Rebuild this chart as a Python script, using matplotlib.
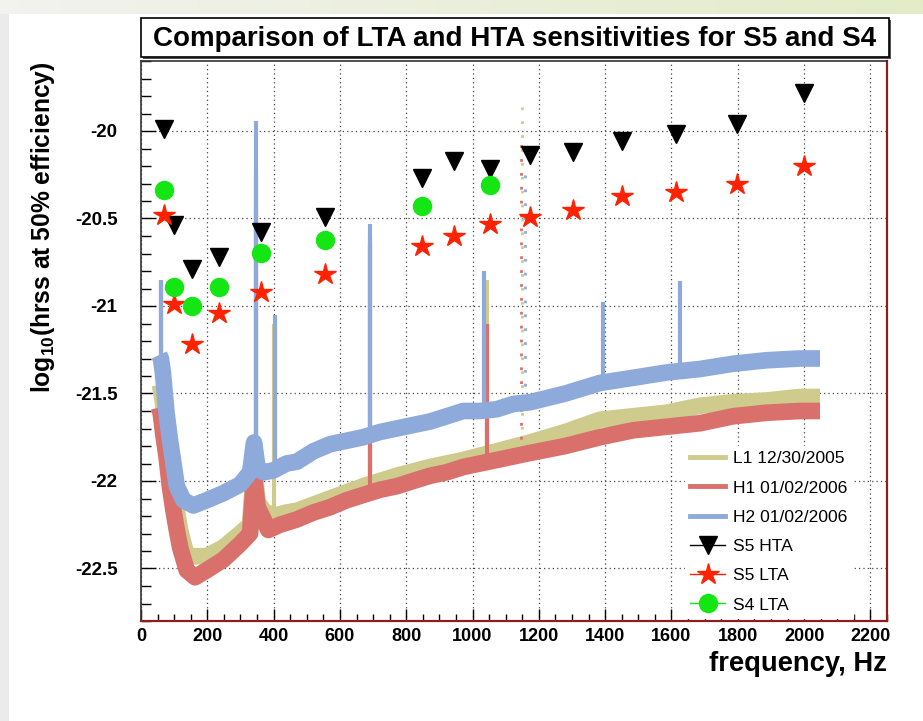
import numpy as np
import matplotlib
matplotlib.use("Agg")
import matplotlib.pyplot as plt
from matplotlib.lines import Line2D
from matplotlib.patches import Rectangle
from matplotlib.ticker import MultipleLocator, FuncFormatter

# --- sine-Gaussian frequencies and sensitivities (log10 hrss) ---
sg_freq = [70, 100, 153, 235, 361, 554, 849, 945, 1053, 1172, 1304, 1451, 1615, 1797, 2000]
s5_hta = [-19.99, -20.54, -20.79, -20.72, -20.58, -20.49, -20.27, -20.17, -20.22,
          -20.14, -20.12, -20.06, -20.02, -19.96, -19.78]
s5_lta = [-20.48, -20.99, -21.22, -21.04, -20.92, -20.82, -20.66, -20.60, -20.53,
          -20.49, -20.45, -20.37, -20.35, -20.30, -20.20]
s4_freq = [70, 100, 153, 235, 361, 554, 849, 1053]
s4_lta = [-20.34, -20.89, -21.00, -20.89, -20.70, -20.62, -20.43, -20.31]

# --- detector noise curves (band centres) ---
l1_freq = [57, 62, 70, 77, 87, 98, 108, 118, 138, 198, 248, 299, 329, 341, 352, 370, 399,
           439, 470, 570, 670, 771, 872, 972, 1073, 1173, 1280, 1384, 1485, 1585, 1686,
           1786, 1887, 1987, 2048]
l1_val = [-21.45, -21.50, -21.60, -21.71, -21.88, -22.03, -22.17, -22.28, -22.43, -22.43,
          -22.38, -22.30, -22.25, -21.92, -22.12, -22.17, -22.20, -22.18, -22.17, -22.10,
          -22.03, -21.97, -21.92, -21.88, -21.83, -21.78, -21.72, -21.65, -21.63, -21.61,
          -21.57, -21.55, -21.54, -21.52, -21.52]
h1_freq = [55, 60, 67, 77, 87, 98, 108, 118, 138, 163, 198, 248, 299, 329, 341, 352, 370,
           384, 419, 470, 520, 570, 620, 670, 721, 771, 821, 872, 922, 972, 1022, 1073,
           1123, 1173, 1280, 1384, 1485, 1585, 1686, 1786, 1887, 1987, 2048]
h1_val = [-21.58, -21.62, -21.73, -21.86, -22.03, -22.17, -22.28, -22.38, -22.51, -22.55,
          -22.51, -22.45, -22.36, -22.30, -21.98, -22.15, -22.22, -22.28, -22.25, -22.22,
          -22.18, -22.15, -22.11, -22.08, -22.05, -22.03, -22.00, -21.97, -21.95, -21.92,
          -21.90, -21.88, -21.86, -21.84, -21.80, -21.75, -21.71, -21.69, -21.67, -21.63,
          -21.61, -21.60, -21.60]
h2_freq = [55, 60, 66, 77, 87, 98, 108, 128, 158, 198, 248, 299, 329, 341, 352, 370, 399,
           439, 470, 520, 570, 620, 670, 721, 771, 821, 872, 922, 972, 1022, 1073, 1123,
           1173, 1280, 1384, 1485, 1585, 1686, 1786, 1887, 1987, 2048]
h2_val = [-21.28, -21.30, -21.38, -21.61, -21.76, -21.90, -22.03, -22.11, -22.14, -22.11,
          -22.07, -22.02, -21.95, -21.78, -21.93, -21.95, -21.94, -21.90, -21.89, -21.83,
          -21.79, -21.77, -21.75, -21.72, -21.70, -21.68, -21.66, -21.63, -21.60, -21.60,
          -21.59, -21.56, -21.55, -21.50, -21.44, -21.41, -21.38, -21.36, -21.33, -21.31,
          -21.30, -21.30]

# dense line spikes: frequency, bottom, top
l1_spike_f = [346, 400, 690, 1045]
l1_spike_lo = [-22.20, -22.20, -22.03, -21.85]
l1_spike_hi = [-20.45, -21.10, -20.60, -20.85]
h1_spike_f = [60, 346, 690, 1045]
h1_spike_lo = [-21.62, -22.15, -22.08, -21.90]
h1_spike_hi = [-20.85, -20.25, -20.65, -21.10]
h2_spike_f = [60, 346, 403, 690, 1035, 1392, 1625]
h2_spike_lo = [-21.30, -21.85, -21.93, -21.75, -21.60, -21.45, -21.38]
h2_spike_hi = [-20.85, -19.94, -21.05, -20.53, -20.80, -20.98, -20.86]
# sparse scatter of the 1150 Hz line
l1_sparse_f = [1150]
l1_sparse_lo = [-21.78]
l1_sparse_hi = [-19.86]
h1_sparse_f = [1147]
h1_sparse_lo = [-21.84]
h1_sparse_hi = [-20.05]
h2_sparse_f = [1158]
h2_sparse_lo = [-21.54]
h2_sparse_hi = [-20.20]

curve_labels = ["L1 12/30/2005", "H1 01/02/2006", "H2 01/02/2006"]
marker_labels = ["S5 HTA", "S5 LTA", "S4 LTA"]
title = "Comparison of LTA and HTA sensitivities for S5 and S4"

C_L1 = "#cfcb8c"
C_H1 = "#d9706b"
C_H2 = "#8eaadb"
C_STAR = "#ff2200"
C_DOT = "#14e614"

plt.rcParams["font.family"] = ["Liberation Sans", "DejaVu Sans"]
plt.rcParams["mathtext.fontset"] = "custom"
plt.rcParams["mathtext.rm"] = "Liberation Sans:bold"
plt.rcParams["mathtext.bf"] = "Liberation Sans:bold"
plt.rcParams["mathtext.default"] = "rm"

W, H = 923, 721
fig = plt.figure(figsize=(W / 100, H / 100), dpi=100)
fig.patch.set_facecolor("white")

# page background: grey strip on the left, faint green band on top
bg = fig.add_axes([0, 0, 1, 1], zorder=-10)
bg.set_xlim(0, W)
bg.set_ylim(0, H)
bg.axis("off")
grad = np.linspace(0, 1, 256)
c0 = np.array([0.95, 0.95, 0.94])
c1 = np.array([0.89, 0.925, 0.78])
band = (c0[None, :] * (1 - grad[:, None]) + c1[None, :] * grad[:, None])[None, :, :]
bg.imshow(band, extent=[0, W, H - 14, H], aspect="auto")
bg.add_patch(Rectangle((0, 0), 9, H - 14, color="#ebebeb", lw=0))

# title box (with a small shadow, ROOT style)
fig.patches.append(Rectangle((143 / W, 662 / H), 748 / W, 39 / H, transform=fig.transFigure,
                             facecolor="#555555", edgecolor="none"))
fig.patches.append(Rectangle((141 / W, 664 / H), 748 / W, 39 / H, transform=fig.transFigure,
                             facecolor="white", edgecolor="black", lw=1.2))
t = fig.text(515 / W, 682.5 / H, title, ha="center", va="center", fontsize=20,
             fontweight="bold")

ax = fig.add_axes([141 / W, 100 / H, 746 / W, 560 / H])

for f, v, c, sf, slo, shi, pf, plo, phi in [
    (l1_freq, l1_val, C_L1, l1_spike_f, l1_spike_lo, l1_spike_hi,
     l1_sparse_f, l1_sparse_lo, l1_sparse_hi),
    (h1_freq, h1_val, C_H1, h1_spike_f, h1_spike_lo, h1_spike_hi,
     h1_sparse_f, h1_sparse_lo, h1_sparse_hi),
    (h2_freq, h2_val, C_H2, h2_spike_f, h2_spike_lo, h2_spike_hi,
     h2_sparse_f, h2_sparse_lo, h2_sparse_hi),
]:
    ax.plot(f, v, color=c, lw=12, solid_capstyle="butt", solid_joinstyle="round", zorder=2)
    ax.vlines(sf, slo, shi, color=c, lw=3, zorder=2)
    ax.vlines(pf, plo, phi, color=c, lw=2, linestyles=(0, (1, 4)), zorder=2)

ax.plot(sg_freq, s5_hta, ls="none", marker="v", ms=13, color="black", zorder=5)
ax.plot(sg_freq, s5_lta, ls="none", marker="*", ms=16, color=C_STAR, mec=C_STAR, zorder=5)
ax.plot(s4_freq, s4_lta, ls="none", marker="o", ms=13, color=C_DOT, mec=C_DOT, zorder=5)

ax.set_xlim(0, 2250)
ax.set_ylim(-22.8, -19.6)
ax.xaxis.set_major_locator(MultipleLocator(200))
ax.xaxis.set_minor_locator(MultipleLocator(50))
ax.yaxis.set_major_locator(MultipleLocator(0.5))
ax.yaxis.set_minor_locator(MultipleLocator(0.1))
fmt = FuncFormatter(lambda v, _: f"{v:g}")
ax.xaxis.set_major_formatter(fmt)
ax.yaxis.set_major_formatter(fmt)
ax.tick_params(which="both", direction="in", top=False, right=False, width=1)
ax.tick_params(axis="x", which="major", length=9, pad=5, labelsize=13)
ax.tick_params(axis="x", which="minor", length=5)
ax.tick_params(axis="y", which="major", length=11, pad=17, labelsize=13.5)
ax.tick_params(axis="y", which="minor", length=7)
for lab in ax.get_xticklabels() + ax.get_yticklabels():
    lab.set_fontweight("bold")
ax.grid(True, which="major", ls=(0, (1, 2.5)), color="#444444", lw=0.9)
ax.set_axisbelow(True)
for s in ["left", "top"]:
    ax.spines[s].set_color("#333333")
    ax.spines[s].set_linewidth(1.2)
for s in ["bottom", "right"]:
    ax.spines[s].set_color("#8b1e1e")
    ax.spines[s].set_linewidth(1.6)

ax.set_ylabel(r"log$_{10}$(hrss at 50% efficiency)", loc="top", fontsize=17.5,
              fontweight="bold")
ax.yaxis.set_label_coords(-0.113, 1.0)
ax.set_xlabel("frequency, Hz", loc="right", fontsize=20, fontweight="bold")
ax.xaxis.set_label_coords(1.0, -0.053)

handles = [
    Line2D([], [], color=C_L1, lw=3.5),
    Line2D([], [], color=C_H1, lw=3.5),
    Line2D([], [], color=C_H2, lw=3.5),
    Line2D([], [], color="black", lw=1, marker="v", ms=13),
    Line2D([], [], color=C_STAR, lw=1, marker="*", ms=16),
    Line2D([], [], color=C_DOT, lw=1, marker="o", ms=13),
]
leg = ax.legend(handles, curve_labels + marker_labels, loc="lower right",
                bbox_to_anchor=(0.966, -0.01), frameon=True, fancybox=False,
                edgecolor="white", facecolor="white", framealpha=1,
                prop={"family": "Liberation Sans", "size": 12.6},
                handlelength=2.0, handletextpad=0.45, labelspacing=0.8, borderpad=0.3)
leg.set_zorder(6)

# fit title and axis labels to the lengths seen in the reference
fig.canvas.draw()
r = fig.canvas.get_renderer()
t.set_fontsize(t.get_fontsize() * 724 / t.get_window_extent(r).width)
yl = ax.yaxis.label
yl.set_fontsize(yl.get_fontsize() * 330 / yl.get_window_extent(r).height)
xl = ax.xaxis.label
xl.set_fontsize(xl.get_fontsize() * 178 / xl.get_window_extent(r).width)

fig.savefig("out.png", dpi=100)
